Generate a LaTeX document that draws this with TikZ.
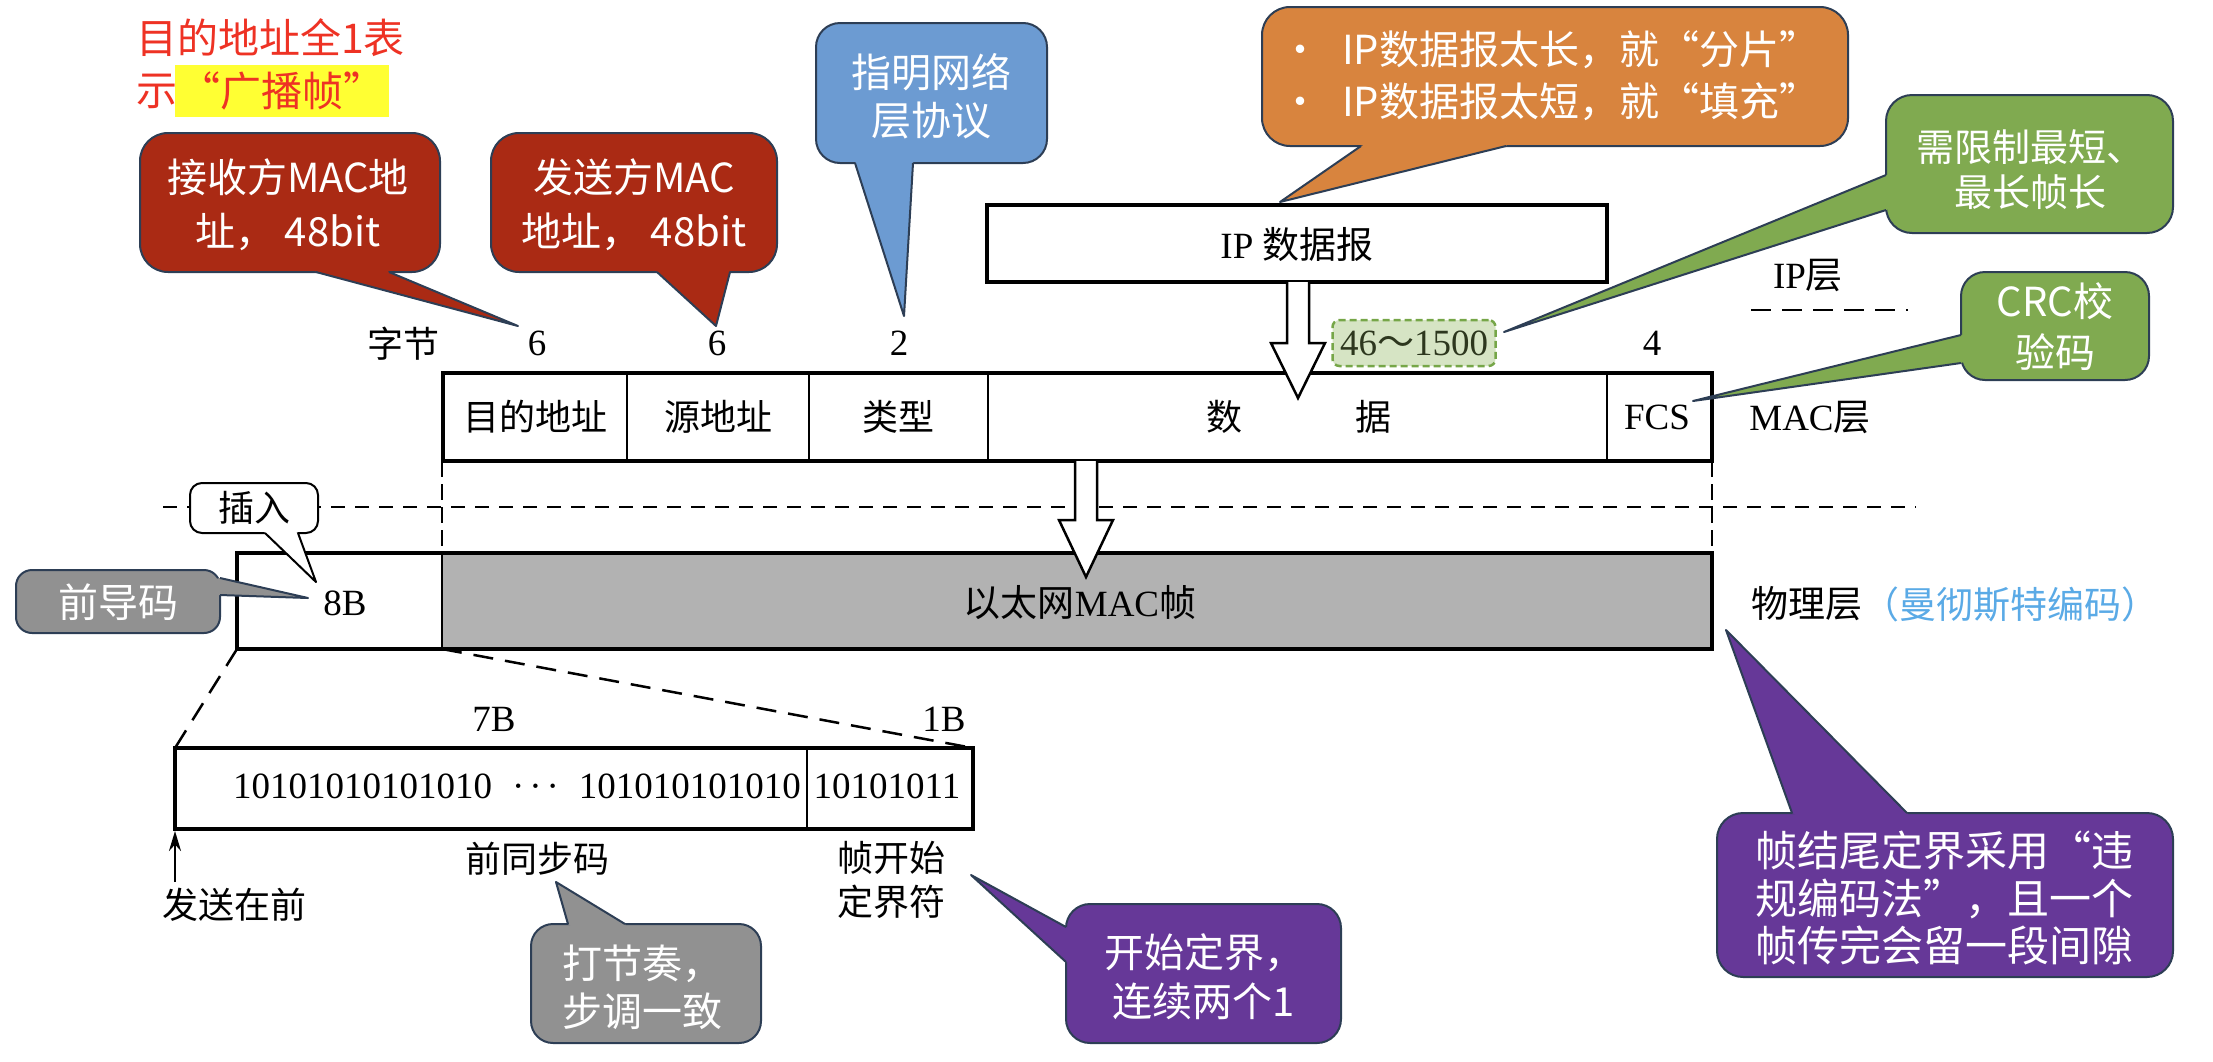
\documentclass[tikz,border=0pt]{standalone}
\usepackage{fontspec}
\setmainfont{Liberation Serif}
\newfontfamily\cjk{Noto Sans CJK SC}
\usetikzlibrary{calc,arrows.meta}
\definecolor{cred}{RGB}{170,42,20}
\definecolor{cblue}{RGB}{108,155,210}
\definecolor{corange}{RGB}{216,132,62}
\definecolor{cgreen}{RGB}{128,170,80}
\definecolor{cpurple}{RGB}{102,56,152}
\definecolor{cgray}{RGB}{145,145,145}
\definecolor{cbar}{RGB}{178,178,178}
\definecolor{cedge}{RGB}{45,62,85}
\definecolor{lgreen}{RGB}{214,228,196}
\definecolor{dgreen}{RGB}{118,166,72}
\definecolor{lblue}{RGB}{90,170,230}
\definecolor{tred}{RGB}{238,50,36}
\definecolor{hyellow}{RGB}{255,255,51}
\definecolor{tgreen}{RGB}{45,55,30}
% #1 fill, #2 border, #3 radius, #4 #5 box corners, #6 #7 pointer base, #8 tip
\newcommand\mycallout[8]{%
  \draw[line width=2pt, draw=#2, fill=#1, rounded corners=#3] #4 rectangle #5;
  \fill[#1] #6 -- #8 -- #7 -- ($#4!0.5!#5$) -- cycle;
  \draw[line width=2pt, draw=#2, line join=round] #6 -- #8 -- #7;
}
\begin{document}
\begin{tikzpicture}[x=1pt,y=-1pt,
  thickbox/.style={line width=4pt},
  thinline/.style={line width=2pt},
  dsh/.style={line width=2.5pt, dash pattern=on 14pt off 10pt},
  vdsh/.style={line width=2pt, dash pattern=on 16pt off 7pt},
  expdash/.style={line width=2.5pt, dash pattern=on 20pt off 12pt},
  sr/.style={font={\fontsize{37}{44}\selectfont}, inner sep=0pt},
  cj/.style={font={\cjk\fontsize{36}{44}\selectfont}, inner sep=0pt},
  wt/.style={text=white, font={\cjk\fontsize{40}{48}\selectfont}, inner sep=0pt, align=center},
  hollow/.style={draw=black, line width=2.5pt, fill=white, line join=miter}
]
\useasboundingbox (0,0) rectangle (2213,1061);

% ---------- dashed layer lines ----------
\draw[dsh] (163,507) -- (1916,507);
\draw[vdsh] (442,461) -- (442,553);
\draw[vdsh] (1712,461) -- (1712,553);
\draw[line width=2.5pt, dash pattern=on 20pt off 11pt] (1751,310) -- (1908,310);

% ---------- MAC frame ----------
\draw[thinline] (627,373) -- (627,461);
\draw[thinline] (809,373) -- (809,461);
\draw[thinline] (988,373) -- (988,461);
\draw[thinline] (1607,373) -- (1607,461);
\draw[thickbox] (443,373) rectangle (1712,461);

% ---------- IP datagram ----------
\draw[thickbox] (987,205) rectangle (1607,282);

% ---------- physical frame ----------
\fill[cbar] (442,553) rectangle (1712,649);
\draw[thinline] (442,553) -- (442,649);
\draw[thickbox] (237,553) rectangle (1712,649);

% ---------- hollow arrows ----------
\draw[hollow] (1287,282) -- (1287,343) -- (1271,343) -- (1298,398) -- (1325,343) -- (1309,343) -- (1309,282);
\draw[hollow] (1075,461) -- (1075,520) -- (1059,520) -- (1086,577) -- (1113,520) -- (1097,520) -- (1097,461);

% ---------- preamble expansion ----------
\draw[expdash] (237,649) -- (175,748);
\draw[expdash] (442,649) -- (973,748);
\draw[thinline] (807,748) -- (807,829);
\draw[thickbox] (175,748) rectangle (973,829);
\coordinate (sendtip) at (175,831);
\coordinate (sendtail) at (175,882);
\draw[line width=2.5pt, -{Stealth[length=20pt,width=12pt]}] (sendtail) -- (sendtip);

% ---------- range box ----------
\node[draw=dgreen, line width=2.5pt, dash pattern=on 7pt off 4pt, fill=lgreen,
      rounded corners=7pt, minimum width=163pt, minimum height=46pt, inner sep=0pt,
      text=tgreen, font={\fontsize{37}{44}\selectfont}] (rng) at (1414,343) {46{\cjk ～}1500};

% ---------- callouts ----------
\mycallout{cred}{cedge}{28pt}{(140,133)}{(440,272)}{(316,272)}{(389,272)}{(518,326)}
\mycallout{cred}{cedge}{28pt}{(491,133)}{(777,272)}{(657,272)}{(730,272)}{(716,326)}
\mycallout{cblue}{cedge}{24pt}{(816,23)}{(1047,163)}{(855,163)}{(913,163)}{(904,316)}
\mycallout{corange}{cedge}{28pt}{(1262,7)}{(1848,146)}{(1361,146)}{(1506,146)}{(1280,202)}
\mycallout{cgreen}{cedge}{26pt}{(1886,95)}{(2173,233)}{(1886,175)}{(1886,210)}{(1504,332)}
\mycallout{cgreen}{cedge}{24pt}{(1961,272)}{(2149,380)}{(1961,335)}{(1961,363)}{(1693,401)}
\mycallout{white}{black}{12pt}{(190,483)}{(318,533)}{(265,533)}{(298,533)}{(316,582)}
\mycallout{cgray}{cedge}{16pt}{(16,570)}{(220,633)}{(220,578)}{(220,595)}{(308,598)}
\mycallout{cgray}{cedge}{22pt}{(531,924)}{(761,1043)}{(568,924)}{(625,924)}{(556,882)}
\mycallout{cpurple}{cedge}{24pt}{(1066,904)}{(1341,1043)}{(1066,927)}{(1066,962)}{(971,875)}
\mycallout{cpurple}{cedge}{26pt}{(1717,813)}{(2173,977)}{(1792,813)}{(1907,813)}{(1726,630)}

% ---------- callout texts ----------
\node[wt, font={\cjk\fontsize{40}{54}\selectfont}] (recv) at (288,205) {接收方MAC地\\址， 48bit};
\node[wt, font={\cjk\fontsize{40}{54}\selectfont}] (send) at (634,205) {发送方MAC\\地址， 48bit};
\node[wt] (proto) at (931,96) {指明网络\\层协议};
\node[wt, font={\cjk\fontsize{40}{52}\selectfont}, align=left, anchor=west] (frag) at (1280,76)
  {•\hspace{22pt}IP数据报太长，就“分片”\\•\hspace{22pt}IP数据报太短，就“填充”};
\node[wt, font={\cjk\fontsize{38}{45}\selectfont}] (limit) at (2030,170) {需限制最短、\\最长帧长};
\node[wt, font={\cjk\fontsize{40}{51}\selectfont}] (crc) at (2055,327) {CRC校\\验码};
\node[cj] (insert) at (254,508) {插入};
\node[wt] (pre) at (118,602) {前导码};
\node[wt, align=left, anchor=west] (beat) at (562,987) {打节奏，\\步调一致};
\node[wt, font={\cjk\fontsize{40}{49}\selectfont}] (sfd) at (1204,977) {开始定界，\\连续两个1};
\node[wt, font={\cjk\fontsize{42}{47.5}\selectfont}, align=left, anchor=west] (end) at (1755,898)
  {帧结尾定界采用“违\\规编码法”，且一个\\帧传完会留一段间隙};

% ---------- red note ----------
\node[text=tred, font={\cjk\fontsize{41}{53}\selectfont}, inner sep=0pt, anchor=west] (bc1) at (136,38) {目的地址全1表};
\node[text=tred, font={\cjk\fontsize{41}{53}\selectfont}, inner sep=0pt, anchor=west] (bc2) at (136,91) {示};
\node[fill=hyellow, text=tred, font={\cjk\fontsize{41}{53}\selectfont}, inner sep=0pt,
      minimum width=214pt, minimum height=52pt] (bc3) at (282,91) {“广播帧”};

% ---------- labels ----------
\node[cj] (bytes) at (403,344) {字节};
\node[sr] (n1) at (537,343) {6};
\node[sr] (n2) at (717,343) {6};
\node[sr] (n3) at (899,343) {2};
\node[sr] (n4) at (1652,343) {4};
\node[cj] (f1) at (535,417) {目的地址};
\node[cj] (f2) at (718,417) {源地址};
\node[cj] (f3) at (898,417) {类型};
\node[cj] (f4) at (1224,417) {数};
\node[cj] (f5) at (1373,417) {据};
\node[sr] (f6) at (1657,417) {FCS};
\node[sr] (maclayer) at (1810,417) {MAC{\cjk 层}};
\node[sr] (ipd) at (1297,244) {IP {\cjk 数据报}};
\node[sr] (iplayer) at (1808,275) {IP{\cjk 层}};
\node[sr] (eightb) at (345,603) {8B};
\node[sr] (ether) at (1080,603) {{\cjk 以太网}MAC{\cjk 帧}};
\node[cj, font={\cjk\fontsize{37}{44}\selectfont}, anchor=west] (phy) at (1751,604) {物理层};
\node[cj, font={\cjk\fontsize{37}{44}\selectfont}, text=lblue, anchor=west] (manch) at (1862,604) {（曼彻斯特编码）};
\node[sr] (sevenb) at (494,719) {7B};
\node[sr] (oneb) at (944,719) {1B};
\node[sr] (bits) at (517,786) {10101010101010\hspace{20pt}·\hspace{5pt}·\hspace{5pt}·\hspace{20pt}101010101010};
\node[sr] (sfdbits) at (887,786) {10101011};
\node[cj] (sendfirst) at (234,905) {发送在前};
\node[cj] (sync) at (537,859) {前同步码};
\node[cj, align=center] (sfdlab) at (891,880) {帧开始\\定界符};
\end{tikzpicture}
\end{document}
